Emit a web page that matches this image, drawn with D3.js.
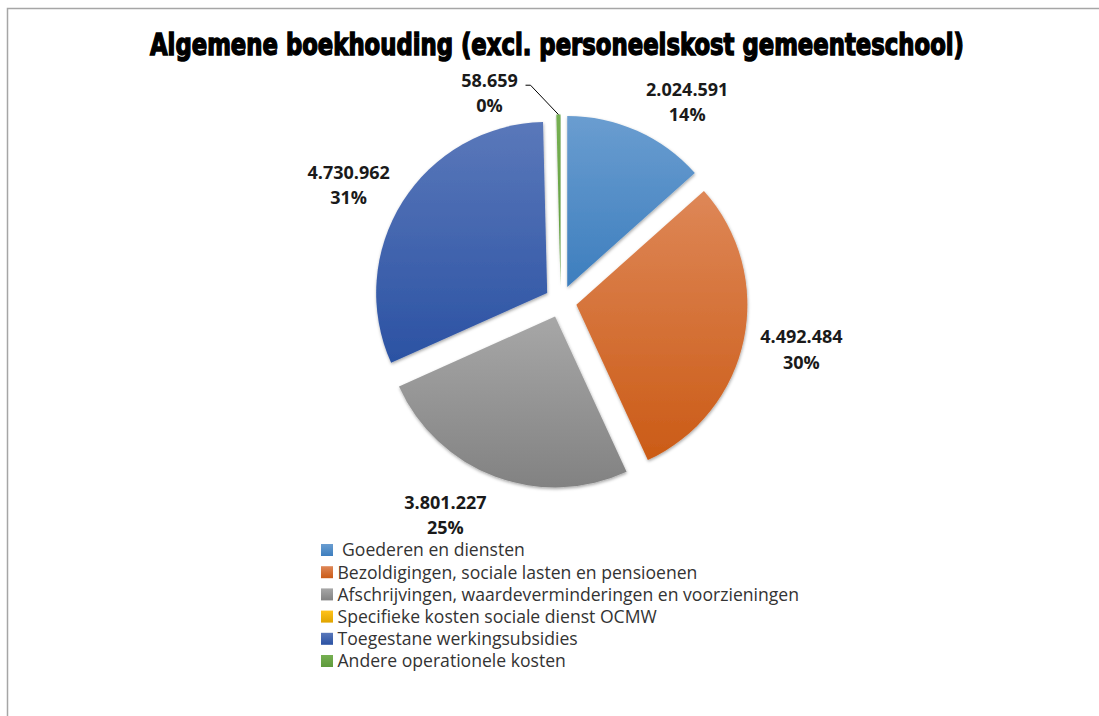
<!DOCTYPE html>
<html>
<head>
<meta charset="utf-8">
<script src="https://cdn.jsdelivr.net/npm/d3@7"></script>
<style>
  html, body { margin: 0; padding: 0; background: #fff; }
</style>
</head>
<body>
<script>
const WIDTH = 1099;
const HEIGHT = 716;

// data
const categories = [
    ' Goederen en diensten',
    'Bezoldigingen, sociale lasten en pensioenen',
    'Afschrijvingen, waardeverminderingen en voorzieningen',
    'Specifieke kosten sociale dienst OCMW',
    'Toegestane werkingsubsidies',
    'Andere operationele kosten'
];
const amounts = [2024591, 4492484, 3801227, 0, 4730962, 58659];
const amountLabels = ['2.024.591', '4.492.484', '3.801.227', '', '4.730.962', '58.659'];
const pctLabels = ['14%', '30%', '25%', '', '31%', '0%'];

// gradient top / bottom per slice
const colorsTop = ['#6a9dd0', '#de8757', '#a7a7a7', '#ffc21a', '#5a78ba', '#76b052'];
const colorsBottom = ['#3d7ebe', '#cb5b16', '#828282', '#e0a400', '#2b52a3', '#5e9a3c'];

// layout
const CX = 560.7, CY = 301.5, R = 171, EXPLODE = 16;
// label placement nudges (angle in degrees, radius) like Excel's best fit
const labelAngleShift = [8, -1, 8, 0, -3, -18];
const labelRadius = [238, 245, 241, 240, 243, 222];

const svg = d3.select('body').append('svg')
    .attr('width', WIDTH)
    .attr('height', HEIGHT)
    .attr('viewBox', [0, 0, WIDTH, HEIGHT]);

const defs = svg.append('defs');

const shadow = defs.append('filter')
    .attr('id', 'shadow')
    .attr('x', '-10%').attr('y', '-10%')
    .attr('width', '120%').attr('height', '120%');
shadow.append('feDropShadow')
    .attr('dx', 0.5).attr('dy', 1.5)
    .attr('stdDeviation', 1.8)
    .attr('flood-color', '#000')
    .attr('flood-opacity', 0.35);

categories.forEach((c, i) => {
    const g = defs.append('linearGradient')
        .attr('id', 'grad' + i)
        .attr('x1', 0).attr('y1', 0).attr('x2', 0).attr('y2', 1);
    g.append('stop').attr('offset', '0%').attr('stop-color', colorsTop[i]);
    g.append('stop').attr('offset', '100%').attr('stop-color', colorsBottom[i]);
});

// chart area frame
svg.append('rect')
    .attr('x', 7.5).attr('y', 8.5)
    .attr('width', WIDTH + 20).attr('height', HEIGHT + 20)
    .attr('fill', '#fff')
    .attr('stroke', '#a6a6a6')
    .attr('stroke-width', 1.5);

// title: squeeze a narrow bold face to the reference width
const title = svg.append('text')
    .attr('text-anchor', 'middle')
    .attr('font-family', '"Liberation Sans Narrow", "DejaVu Sans Condensed", sans-serif')
    .attr('font-weight', 'bold')
    .attr('font-size', 30)
    .attr('fill', '#000')
    .attr('stroke', '#000')
    .attr('stroke-width', 1.4)
    .text('Algemene boekhouding (excl. personeelskost gemeenteschool)');
const titleLen = title.node().getComputedTextLength();
title.attr('transform', `translate(557,55) scale(${814 / titleLen},1)`);

const data = categories.map((name, i) => ({
    name, i,
    value: amounts[i],
    amount: amountLabels[i],
    pct: pctLabels[i]
}));

const pie = d3.pie().sort(null).value(d => d.value);
const arcs = pie(data);
const arc = d3.arc().innerRadius(0).outerRadius(R);

const midAngle = a => (a.startAngle + a.endAngle) / 2;
const offset = (a, dist) => [Math.sin(midAngle(a)) * dist, -Math.cos(midAngle(a)) * dist];

const slices = svg.append('g')
    .attr('transform', `translate(${CX},${CY})`);

slices.selectAll('path')
    .data(arcs.filter(a => a.value > 0))
    .join('path')
        .attr('transform', a => `translate(${offset(a, EXPLODE)})`)
        .attr('d', arc)
        .attr('fill', a => `url(#grad${a.data.i})`)
        .attr('filter', 'url(#shadow)');

// data labels
const labelArcs = arcs.filter(a => a.value > 0);
const labelPos = a => {
    const ang = midAngle(a) + labelAngleShift[a.data.i] * Math.PI / 180;
    const rr = labelRadius[a.data.i];
    return [CX + Math.sin(ang) * rr, CY - Math.cos(ang) * rr];
};

const labels = svg.append('g')
    .attr('font-family', '"Open Sans", sans-serif')
    .attr('font-weight', 'bold')
    .attr('font-size', 18)
    .attr('fill', '#1a1a1a')
    .attr('text-anchor', 'middle');

labelArcs.forEach(a => {
    const [x, y] = labelPos(a);
    const t = labels.append('text').attr('x', x).attr('y', y);
    t.append('tspan').attr('x', x).attr('dy', '-0.22em').text(a.data.amount);
    t.append('tspan').attr('x', x).attr('dy', '1.4em').text(a.data.pct);
});

// leader line for the tiny slice
const tiny = arcs[arcs.length - 1];
{
    const [lx, ly] = labelPos(tiny);
    const [ox, oy] = offset(tiny, EXPLODE + R);
    const sx = lx + 36, sy = ly - 6;
    svg.append('polyline')
        .attr('points', [[sx, sy], [sx + 5, sy], [CX + ox, CY + oy]].map(p => p.join(',')).join(' '))
        .attr('fill', 'none')
        .attr('stroke', '#000')
        .attr('stroke-width', 1);
}

// legend
const legend = svg.append('g')
    .attr('transform', 'translate(321,550)');
const rowH = 22.2;
const rows = legend.selectAll('g')
    .data(data)
    .join('g')
        .attr('transform', (d, i) => `translate(0,${i * rowH})`);
rows.append('rect')
    .attr('x', 0).attr('y', -6)
    .attr('width', 12).attr('height', 12)
    .attr('fill', d => `url(#grad${d.i})`);
rows.append('text')
    .attr('x', 16.5)
    .attr('y', 0)
    .attr('dy', '0.36em')
    .attr('font-family', '"Open Sans", sans-serif')
    .attr('font-size', 17.6)
    .attr('fill', '#333')
    .attr('xml:space', 'preserve')
    .style('white-space', 'pre')
    .text(d => d.name);
</script>
</body>
</html>
